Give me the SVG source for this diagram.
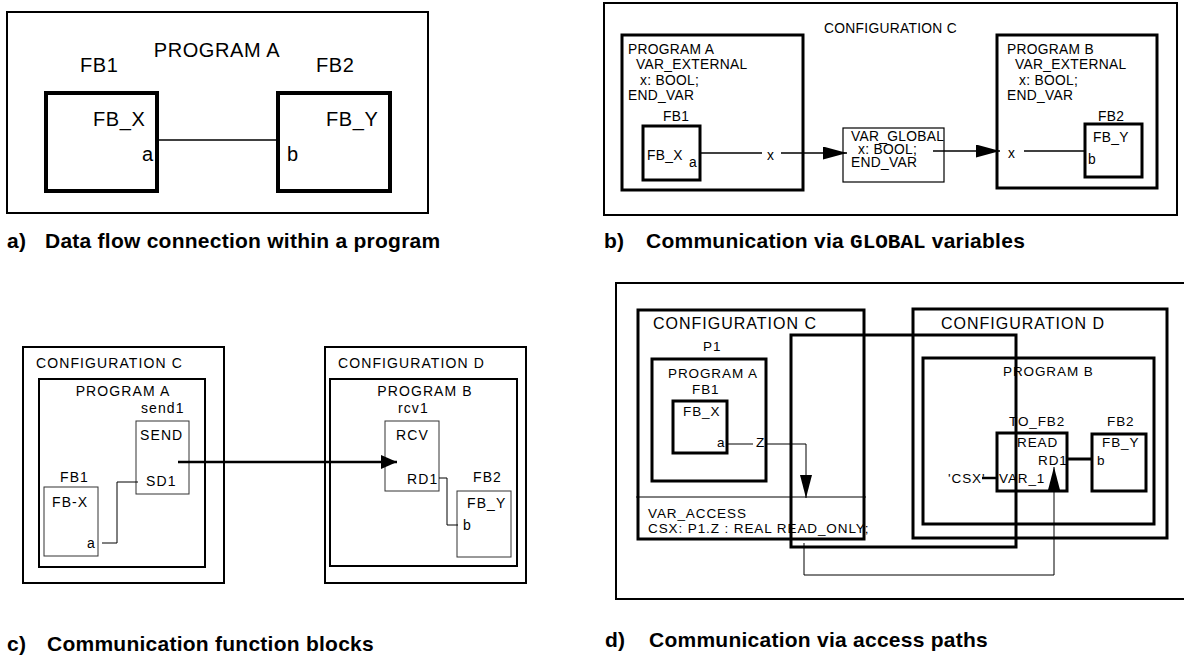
<svg xmlns="http://www.w3.org/2000/svg" width="1184" height="655" viewBox="0 0 1184 655">
<style>
  .b{fill:none;stroke:#000}
  .w2{stroke-width:2}
  .w3{stroke-width:3}
  .w4{stroke-width:4}
  .w1{stroke-width:1.2}
  .thin{stroke-width:1;stroke:#333}
  .ln{fill:none;stroke:#000;stroke-width:1.3}
  .lnt{fill:none;stroke:#000;stroke-width:1}
  text{font-family:"Liberation Sans",Arial,Helvetica,sans-serif;fill:#000}
  .ta{font-size:20px;letter-spacing:0.6px}
  .tb{font-size:13.8px;letter-spacing:0.3px}
  .tc{font-size:14px;letter-spacing:1.1px}
  .td{font-size:13.5px;letter-spacing:0.9px}
  .tdl{font-size:16px;letter-spacing:1px}
  .cap{font-size:21px;font-weight:bold;letter-spacing:0.25px}
  .mono{font-family:"Liberation Mono","Courier New",monospace;letter-spacing:0}
  .mid{text-anchor:middle}
</style>
<defs>
  <marker id="arrL" markerWidth="24" markerHeight="13" refX="24" refY="6.5" orient="auto" markerUnits="userSpaceOnUse">
    <path d="M0,0 L24,6.5 L0,13 z" fill="#000"/>
  </marker>
  <marker id="arrS" markerWidth="16" markerHeight="14" refX="16" refY="7" orient="auto" markerUnits="userSpaceOnUse">
    <path d="M0,0 L16,7 L0,14 z" fill="#000"/>
  </marker>
  <marker id="arrD" markerWidth="23" markerHeight="12" refX="23" refY="6" orient="auto" markerUnits="userSpaceOnUse">
    <path d="M0,0 L23,6 L0,12 z" fill="#000"/>
  </marker>
</defs>

<!-- ===== Panel a ===== -->
<g id="a-programA">
  <rect class="b w2" x="7" y="12" width="421" height="201"/>
  <text class="ta mid" x="217" y="57">PROGRAM A</text>
</g>
<g id="a-FB1">
  <text class="ta" x="80" y="72">FB1</text>
  <rect class="b w4" x="46" y="93" width="111" height="98"/>
  <text class="ta" x="93" y="126">FB_X</text>
  <text class="ta" x="142" y="161">a</text>
</g>
<g id="a-FB2">
  <text class="ta" x="316" y="72">FB2</text>
  <rect class="b w4" x="278" y="93" width="112" height="98"/>
  <text class="ta" x="326" y="126">FB_Y</text>
  <text class="ta" x="287" y="161">b</text>
</g>
<g id="a-caption">
  <text class="cap" x="7" y="248">a)</text>
  <text class="cap" x="45" y="248">Data flow connection within a program</text>
</g>

<!-- ===== Panel b ===== -->
<g id="b-configC">
  <rect class="b w2" x="604" y="3" width="573" height="212"/>
  <text class="tb" x="824" y="33">CONFIGURATION C</text>
</g>
<g id="b-programA">
  <rect class="b w3" x="622" y="35" width="181" height="155"/>
  <text class="tb" x="628" y="54">PROGRAM A</text>
  <text class="tb" x="636" y="69">VAR_EXTERNAL</text>
  <text class="tb" x="640" y="85">x: BOOL;</text>
  <text class="tb" x="628" y="100">END_VAR</text>
  <text class="tb" x="767" y="160">x</text>
</g>
<g id="b-FB1">
  <text class="tb" x="663" y="121">FB1</text>
  <rect class="b w3" x="643" y="126" width="57" height="54"/>
  <text class="tb" x="647" y="160">FB_X</text>
  <text class="tb" x="689" y="167">a</text>
</g>
<g id="b-varglobal">
  <rect class="b w1" x="843" y="128" width="101" height="54"/>
  <text class="tb" x="851" y="141" letter-spacing="0">VAR_GLOBAL</text>
  <text class="tb" x="858" y="154">x: BOOL;</text>
  <text class="tb" x="851" y="167">END_VAR</text>
</g>
<g id="b-programB">
  <rect class="b w3" x="997" y="35" width="160" height="153"/>
  <text class="tb" x="1007" y="54">PROGRAM B</text>
  <text class="tb" x="1015" y="69">VAR_EXTERNAL</text>
  <text class="tb" x="1019" y="85">x: BOOL;</text>
  <text class="tb" x="1007" y="100">END_VAR</text>
  <text class="tb" x="1008" y="158">x</text>
</g>
<g id="b-FB2">
  <text class="tb" x="1098" y="121">FB2</text>
  <rect class="b w3" x="1085" y="124" width="57" height="53"/>
  <text class="tb" x="1093" y="142">FB_Y</text>
  <text class="tb" x="1088" y="164">b</text>
</g>
<g id="b-caption">
  <text class="cap" x="604" y="248">b)</text>
  <text class="cap" x="646" y="248">Communication via <tspan class="mono">GLOBAL</tspan> variables</text>
</g>

<!-- ===== Panel c ===== -->
<g id="c-configC">
  <rect class="b w2" x="23" y="347" width="201" height="236"/>
  <text class="tc" x="36" y="368">CONFIGURATION C</text>
</g>
<g id="c-programA">
  <rect class="b w2" x="39" y="379" width="166" height="188"/>
  <text class="tc mid" x="123" y="396">PROGRAM A</text>
</g>
<g id="c-send1">
  <text class="tc" x="141" y="413">send1</text>
  <rect class="b thin" x="136" y="421" width="53" height="73"/>
  <text class="tc" x="140" y="440">SEND</text>
  <text class="tc" x="146" y="486">SD1</text>
</g>
<g id="c-FB1">
  <text class="tc" x="60" y="482">FB1</text>
  <rect class="b thin" x="44" y="487" width="54" height="69"/>
  <text class="tc" x="52" y="507">FB-X</text>
  <text class="tc" x="87" y="548">a</text>
</g>
<g id="c-configD">
  <rect class="b w2" x="325" y="347" width="201" height="236"/>
  <text class="tc" x="338" y="368">CONFIGURATION D</text>
</g>
<g id="c-programB">
  <rect class="b w2" x="330" y="379" width="187" height="187"/>
  <text class="tc mid" x="425" y="396">PROGRAM B</text>
</g>
<g id="c-rcv1">
  <text class="tc" x="398" y="413">rcv1</text>
  <rect class="b thin" x="385" y="421" width="54" height="70"/>
  <text class="tc" x="396" y="440">RCV</text>
  <text class="tc" x="407" y="484">RD1</text>
</g>
<g id="c-FB2">
  <text class="tc" x="473" y="482">FB2</text>
  <rect class="b thin" x="457" y="491" width="54" height="66"/>
  <text class="tc" x="467" y="508">FB_Y</text>
  <text class="tc" x="463" y="530">b</text>
</g>
<g id="c-caption">
  <text class="cap" x="7" y="651">c)</text>
  <text class="cap" x="47" y="651">Communication function blocks</text>
</g>

<!-- ===== Panel d ===== -->
<g id="d-outer">
  <rect class="b w2" x="616" y="283" width="580" height="316"/>
</g>
<g id="d-configC">
  <rect class="b w3" x="638" y="310" width="226" height="229"/>
  <text class="tdl" x="653" y="329">CONFIGURATION C</text>
  <line class="lnt" x1="636" y1="497" x2="866" y2="497"/>
  <text class="td" x="648" y="518">VAR_ACCESS</text>
  <text class="td" x="648" y="533">CSX: P1.Z : REAL READ_ONLY;</text>
</g>
<g id="d-P1">
  <text class="td" x="703" y="351">P1</text>
  <rect class="b w3" x="652" y="359" width="114" height="122"/>
  <text class="td" x="668" y="378">PROGRAM A</text>
</g>
<g id="d-FB1">
  <text class="td" x="692" y="394">FB1</text>
  <rect class="b w3" x="673" y="401" width="54" height="52"/>
  <text class="td" x="683" y="416">FB_X</text>
  <text class="td" x="717" y="447">a</text>
  <text class="td" x="756" y="447">Z</text>
</g>
<g id="d-configD">
  <rect class="b w3" x="913" y="309" width="254" height="229"/>
  <text class="tdl" x="941" y="329">CONFIGURATION D</text>
</g>
<g id="d-access">
  <rect class="b w3" x="791" y="335" width="225" height="212"/>
</g>
<g id="d-programB">
  <rect class="b w3" x="923" y="358" width="231" height="166"/>
  <text class="td" x="1003" y="376">PROGRAM B</text>
</g>
<g id="d-TO_FB2">
  <text class="td" x="1009" y="426">TO_FB2</text>
  <rect class="b w3" x="997" y="433" width="70" height="58"/>
  <text class="td" x="1017" y="447">READ</text>
  <text class="td" x="1038" y="465">RD1</text>
  <text class="td" x="999" y="483">VAR_1</text>
  <text class="td" x="948" y="483">'CSX'</text>
</g>
<g id="d-FB2">
  <text class="td" x="1107" y="426">FB2</text>
  <rect class="b w3" x="1092" y="434" width="54" height="57"/>
  <text class="td" x="1102" y="447">FB_Y</text>
  <text class="td" x="1097" y="465">b</text>
</g>
<g id="d-caption">
  <text class="cap" x="605" y="647">d)</text>
  <text class="cap" x="649" y="647">Communication via access paths</text>
</g>

<!-- ===== Connectors ===== -->
<g id="connectors">
  <line class="ln" x1="157" y1="140" x2="278" y2="140"/>

  <line class="ln" x1="700" y1="153" x2="762" y2="153"/>
  <line class="ln" x1="781" y1="153" x2="847" y2="153" marker-end="url(#arrL)"/>
  <line class="ln" x1="933" y1="151" x2="1000" y2="151" marker-end="url(#arrL)"/>
  <line class="ln" x1="1024" y1="151" x2="1085" y2="151"/>

  <polyline class="lnt" points="102,543 117,543 117,482 138,482"/>
  <line fill="none" stroke="#000" stroke-width="2.5" x1="178" y1="462" x2="397" y2="462" marker-end="url(#arrS)"/>
  <polyline class="lnt" points="439,478 447,478 447,525 458,525"/>

  <line class="lnt" x1="727" y1="444" x2="753" y2="444"/>
  <polyline class="lnt" points="765,444 806,444 806,498" marker-end="url(#arrD)"/>
  <polyline class="lnt" points="804,543 804,575 1054,575 1054,467" marker-end="url(#arrD)"/>
  <line fill="none" stroke="#000" stroke-width="2.5" x1="982" y1="478" x2="997" y2="478"/>
  <line fill="none" stroke="#000" stroke-width="3" x1="1067" y1="459" x2="1092" y2="459"/>
</g>
</svg>
